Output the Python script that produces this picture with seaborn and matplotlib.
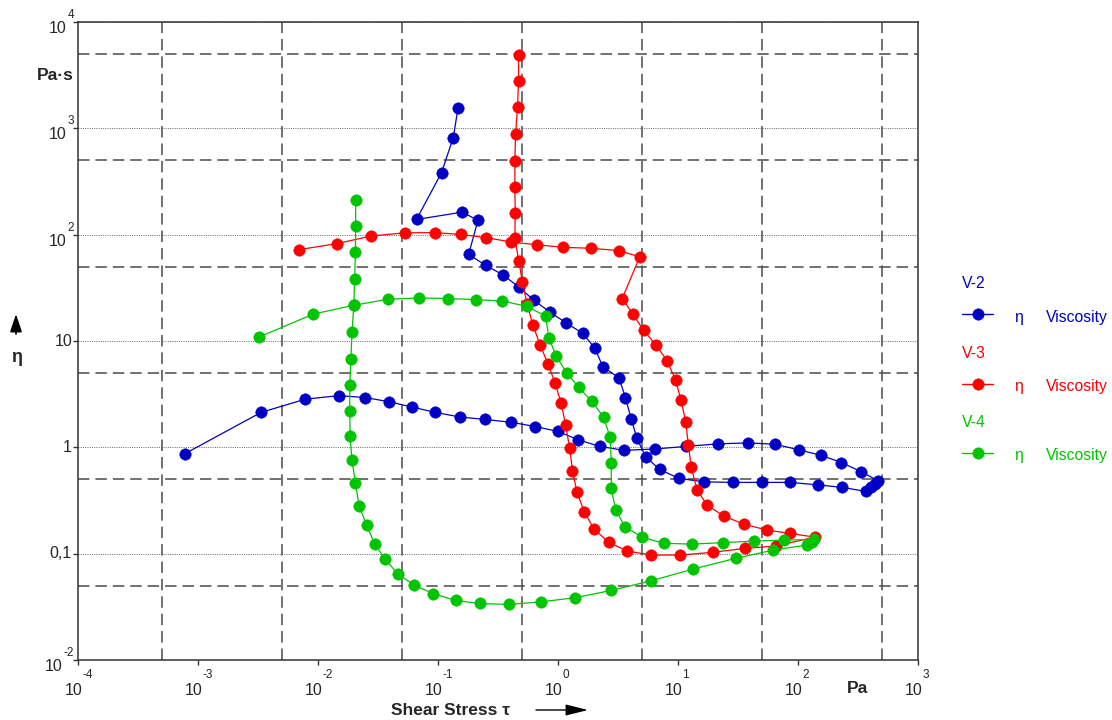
import numpy as np
import pandas as pd
import matplotlib
matplotlib.use("Agg")
import matplotlib.pyplot as plt
import matplotlib.transforms as mtransforms
from matplotlib.lines import Line2D
from matplotlib.ticker import LogLocator, NullFormatter
import seaborn as sns

# ---------------- data (shear stress tau [Pa], viscosity eta [Pa s]) ----------------
v2_tau = [0.147, 0.134, 0.107, 0.0662, 0.160, 0.215, 0.180, 0.249, 0.349, 0.469, 0.629, 0.851,
          1.156, 1.61, 2.02, 2.37, 3.22, 3.65, 4.07, 4.54, 5.37, 7.02, 10.2, 16.5, 28.6, 50.0,
          85.0, 146, 233, 371, 405, 437, 464, 336, 230, 156, 101, 64.1, 38.5, 21.7, 11.7, 6.42,
          3.56, 2.22, 1.47, 1.00, 0.648, 0.406, 0.246, 0.152, 0.095, 0.0611, 0.0394, 0.0248,
          0.0149, 0.00785, 0.00335, 0.00078]
v2_eta = [1564, 817, 383, 139, 163, 136, 65.3, 51.5, 41.8, 32.3, 24.2, 18.8,
          14.9, 11.8, 8.6, 5.72, 4.51, 2.93, 1.86, 1.22, 0.817, 0.62, 0.51, 0.474, 0.468, 0.468,
          0.468, 0.444, 0.42, 0.385, 0.42, 0.454, 0.485, 0.59, 0.72, 0.84, 0.95, 1.07, 1.10, 1.08,
          1.02, 0.965, 0.937, 1.02, 1.18, 1.41, 1.57, 1.72, 1.83, 1.93, 2.13, 2.39, 2.68, 2.94,
          3.06, 2.84, 2.13, 0.873]

v3_tau = [0.469, 0.469, 0.460, 0.443, 0.437, 0.437, 0.440, 0.437, 0.472, 0.505, 0.553, 0.618,
          0.711, 0.828, 0.948, 1.064, 1.157, 1.25, 1.32, 1.44, 1.65, 1.99, 2.64, 3.75, 6.0, 10.4,
          19.4, 36.1, 65.5, 138, 86.0, 54.8, 35.5, 24.2, 17.5, 14.4, 12.9, 12.2, 11.6, 10.6, 9.55,
          8.12, 6.58, 5.16, 4.21, 3.43, 4.8, 3.21, 1.89, 1.11, 0.674, 0.408, 0.252, 0.155, 0.094,
          0.0527, 0.0278, 0.0143, 0.00694]
v3_eta = [4893, 2805, 1575, 879, 497, 282, 161, 92.4, 56, 36, 22.2, 14.1,
          9.14, 6.02, 3.99, 2.59, 1.62, 0.985, 0.605, 0.379, 0.249, 0.171, 0.128, 0.106, 0.097, 0.097,
          0.103, 0.112, 0.118, 0.143, 0.155, 0.167, 0.189, 0.225, 0.285, 0.399, 0.648, 1.05, 1.74,
          2.78, 4.29, 6.51, 9.14, 12.6, 17.9, 25.1, 61.9, 70.8, 74.5, 76, 80.2, 85.3, 93.7, 100.5,
          104.5, 104, 97.2, 82.3, 72.3]

v4_tau = [0.0206, 0.0206, 0.0205, 0.0202, 0.0199, 0.0192, 0.0188, 0.0184, 0.0184, 0.0185, 0.0192,
          0.0205, 0.0220, 0.0254, 0.0297, 0.0362, 0.0461, 0.0631, 0.091, 0.140, 0.224, 0.390, 0.720,
          1.38, 2.78, 6.0, 13.4, 30.2, 62.0, 118, 130, 136, 76.4, 43.0, 23.7, 13.1, 7.65, 4.98, 3.61,
          3.02, 2.78, 2.78, 2.72, 2.40, 1.92, 1.49, 1.19, 0.966, 0.840, 0.787, 0.547, 0.342, 0.206,
          0.120, 0.070, 0.0386, 0.0199, 0.00914, 0.00323]
v4_eta = [210, 120, 68.8, 38.6, 21.7, 12.1, 6.8, 3.82, 2.2, 1.28, 0.755,
          0.464, 0.282, 0.185, 0.123, 0.0891, 0.0648, 0.0506, 0.0422, 0.0363, 0.0340, 0.0333, 0.0352,
          0.0385, 0.0451, 0.0556, 0.0717, 0.0903, 0.108, 0.1205, 0.128, 0.136, 0.134, 0.1315, 0.127,
          0.123, 0.125, 0.143, 0.180, 0.258, 0.413, 0.72, 1.24, 1.92, 2.70, 3.66, 4.95, 7.21, 10.7,
          17.2, 21.2, 23.8, 24.5, 25.1, 25.4, 24.7, 21.7, 17.9, 10.9]

series_names = ["V-2", "V-3", "V-4"]
series_colors = ["#0000C4", "#FF0000", "#00C400"]
x_exponents = [-4, -3, -2, -1, 0, 1, 2, 3]
y_exp_labels = [4, 3, 2, -2]
y_plain = [(10, "10"), (1, "1"), (0.1, "0,1")]

# ---------------- figure ----------------
sns.set_theme(style="white")
plt.rcParams["font.family"] = ["Liberation Sans", "DejaVu Sans"]
plt.rcParams["axes.unicode_minus"] = False

W, H = 1112, 720
fig = plt.figure(figsize=(W / 100, H / 100), dpi=100)
fig.patch.set_facecolor("white")
ax = fig.add_axes([78 / W, 60 / H, 840 / W, 638 / H])
ax.set_facecolor("white")
ax.set_xscale("log")
ax.set_yscale("log")

frames = []
for name, xs, ys in zip(series_names, [v2_tau, v3_tau, v4_tau], [v2_eta, v3_eta, v4_eta]):
    frames.append(pd.DataFrame({"tau": xs, "eta": ys, "sample": name}))
df = pd.concat(frames, ignore_index=True)

for name, color in zip(series_names, series_colors):
    sub = df[df["sample"] == name]
    sns.lineplot(data=sub, x="tau", y="eta", sort=False, estimator=None, color=color,
                 marker="o", markersize=8.3, markeredgecolor=color, markeredgewidth=0.3,
                 linewidth=0.9, ax=ax, legend=False, zorder=3)

ax.set_xlim(1e-4, 1e3)
ax.set_ylim(1e-2, 1e4)

# ticks and grid
ax.xaxis.set_major_locator(LogLocator(base=10, numticks=20))
ax.yaxis.set_major_locator(LogLocator(base=10, numticks=20))
ax.xaxis.set_minor_locator(LogLocator(base=10, subs=(5.0,), numticks=20))
ax.yaxis.set_minor_locator(LogLocator(base=10, subs=(5.0,), numticks=20))
ax.xaxis.set_minor_formatter(NullFormatter())
ax.yaxis.set_minor_formatter(NullFormatter())
ax.tick_params(which="major", direction="out", length=3.5, width=1.0, color="#333333",
               labelbottom=False, labelleft=False, bottom=True, left=True)
ax.tick_params(which="minor", length=0)
ax.grid(False)
ax.grid(which="minor", axis="both", color="#4a4a4a", linewidth=1.1,
        linestyle=(0, (7.5, 3.9)))
ax.grid(which="major", axis="y", color="#666666", linewidth=0.7, linestyle=(0, (1, 1.3)))
ax.set_axisbelow(True)
for sp in ax.spines.values():
    sp.set_visible(True)
    sp.set_color("#333333")
    sp.set_linewidth(1.1)
ax.set_xlabel("")
ax.set_ylabel("")

# tick labels (10 with raised exponent)
tx = mtransforms.blended_transform_factory(ax.transData, ax.transAxes)
for e in x_exponents:
    ax.text(10.0 ** e, 0, "10", fontsize=11.5, ha="right", va="baseline",
            transform=mtransforms.offset_copy(tx, fig=fig, x=4, y=-35, units="dots"))
    ax.text(10.0 ** e, 0, str(e), fontsize=8.5, ha="left", va="baseline",
            transform=mtransforms.offset_copy(tx, fig=fig, x=4.5, y=-18, units="dots"))

ty = mtransforms.blended_transform_factory(ax.transAxes, ax.transData)
for e in y_exp_labels:
    ax.text(0, 10.0 ** e, str(e), fontsize=8.5, ha="right", va="center",
            transform=mtransforms.offset_copy(ty, fig=fig, x=-4, y=7, units="dots"))
    shift = -16 if e < 0 else -11
    ax.text(0, 10.0 ** e, "10", fontsize=11.5, ha="right", va="center",
            transform=mtransforms.offset_copy(ty, fig=fig, x=shift, y=-6.5, units="dots"))
for val, lab in y_plain:
    ax.text(0, val, lab, fontsize=11.5, ha="right", va="center",
            transform=mtransforms.offset_copy(ty, fig=fig, x=-6, y=0, units="dots"))


def ftext(x, y, s, **kw):
    fig.text(x / W, 1 - y / H, s, **kw)


# axis titles
ftext(847, 693, "Pa", fontsize=12.5, fontweight="bold", ha="left", va="baseline")
ftext(74, 75, "Pa·s", fontsize=12.5, fontweight="bold", ha="right", va="center")
ftext(391, 715, "Shear Stress τ", fontsize=12.5, fontweight="bold", ha="left", va="baseline")
ftext(17, 358, "η", fontsize=13, fontweight="bold", ha="center", va="center")
ax.annotate("", xy=(588, H - 710), xytext=(536, H - 710), xycoords="figure pixels",
            textcoords="figure pixels",
            arrowprops=dict(arrowstyle="-|>,head_length=0.8,head_width=0.2", color="black",
                            lw=1.0, mutation_scale=17, shrinkA=0, shrinkB=0))
ax.annotate("", xy=(16, H - 314), xytext=(16, H - 334), xycoords="figure pixels",
            textcoords="figure pixels",
            arrowprops=dict(arrowstyle="-|>,head_length=0.9,head_width=0.3", color="black",
                            lw=1.2, mutation_scale=12, shrinkA=0, shrinkB=0))

# legend (custom, as in the original)
line_rows = [314, 384, 453]
for (name, color), ly in zip(zip(series_names, series_colors), line_rows):
    ftext(962, ly - 26, name, fontsize=11.3, color=color, ha="left", va="baseline")
    fig.add_artist(Line2D([962 / W, 993 / W], [1 - ly / H, 1 - ly / H], color=color,
                          lw=1.0, transform=fig.transFigure))
    fig.add_artist(Line2D([977.5 / W], [1 - ly / H], color=color, marker="o", markersize=8.3,
                          markeredgewidth=0.3, lw=0, transform=fig.transFigure))
    ftext(1014, ly + 7.5, "η", fontsize=11.3, color=color, ha="left", va="baseline")
    ftext(1046, ly + 7.5, "Viscosity", fontsize=11.3, color=color, ha="left", va="baseline")

fig.savefig("out.png", dpi=100, facecolor="white")
